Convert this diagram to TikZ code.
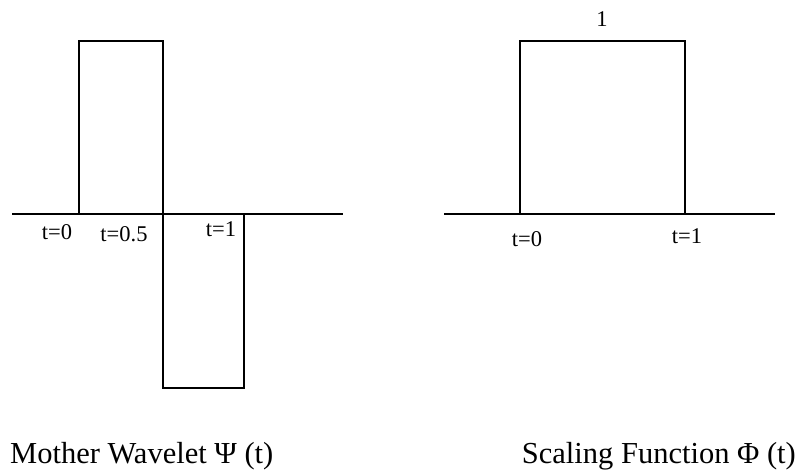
\documentclass[tikz,border=0pt]{standalone}
\usepackage{fontspec}
\setmainfont{Liberation Serif}
\begin{document}
\begin{tikzpicture}[x=1pt,y=-1pt,
  signal/.style={line width=1.6pt,line join=miter},
  axisline/.style={line width=1.6pt},
  tick/.style={inner sep=0pt,font=\fontsize{22.5}{23}\selectfont},
  caption/.style={inner sep=0pt,font=\fontsize{30.5}{32}\selectfont}]
\useasboundingbox (0,0) rectangle (797,474);
% Haar mother wavelet
\coordinate (wl) at (12,214);
\coordinate (wr) at (343,214);
\coordinate (w0) at (79,214);
\coordinate (w0t) at (79,41);
\coordinate (whalft) at (163,41);
\coordinate (whalfb) at (163,388);
\coordinate (w1b) at (244,388);
\coordinate (w1) at (244,214);
\draw[axisline] (wl) -- (wr);
\draw[signal] (w0) -- (w0t) -- (whalft) -- (whalfb) -- (w1b) -- (w1);
\node[tick] (wt0) at (57,232) {t=0};
\node[tick] (wt05) at (124,234) {t=0.5};
\node[tick] (wt1) at (221,229) {t=1};
% Scaling function
\coordinate (sl) at (444,214);
\coordinate (sr) at (775,214);
\coordinate (s0) at (520,214);
\coordinate (s0t) at (520,41);
\coordinate (s1t) at (685,41);
\coordinate (s1) at (685,214);
\draw[axisline] (sl) -- (sr);
\draw[signal] (s0) -- (s0t) -- (s1t) -- (s1);
\node[tick] (sone) at (602,19) {1};
\node[tick] (st0) at (527,239) {t=0};
\node[tick] (st1) at (687,236) {t=1};
% captions
\node[caption,anchor=base west] (capw) at (10,463) {Mother Wavelet Ψ (t)};
\node[caption,anchor=base east] (caps) at (796,463) {Scaling Function Φ (t)};
\end{tikzpicture}
\end{document}
